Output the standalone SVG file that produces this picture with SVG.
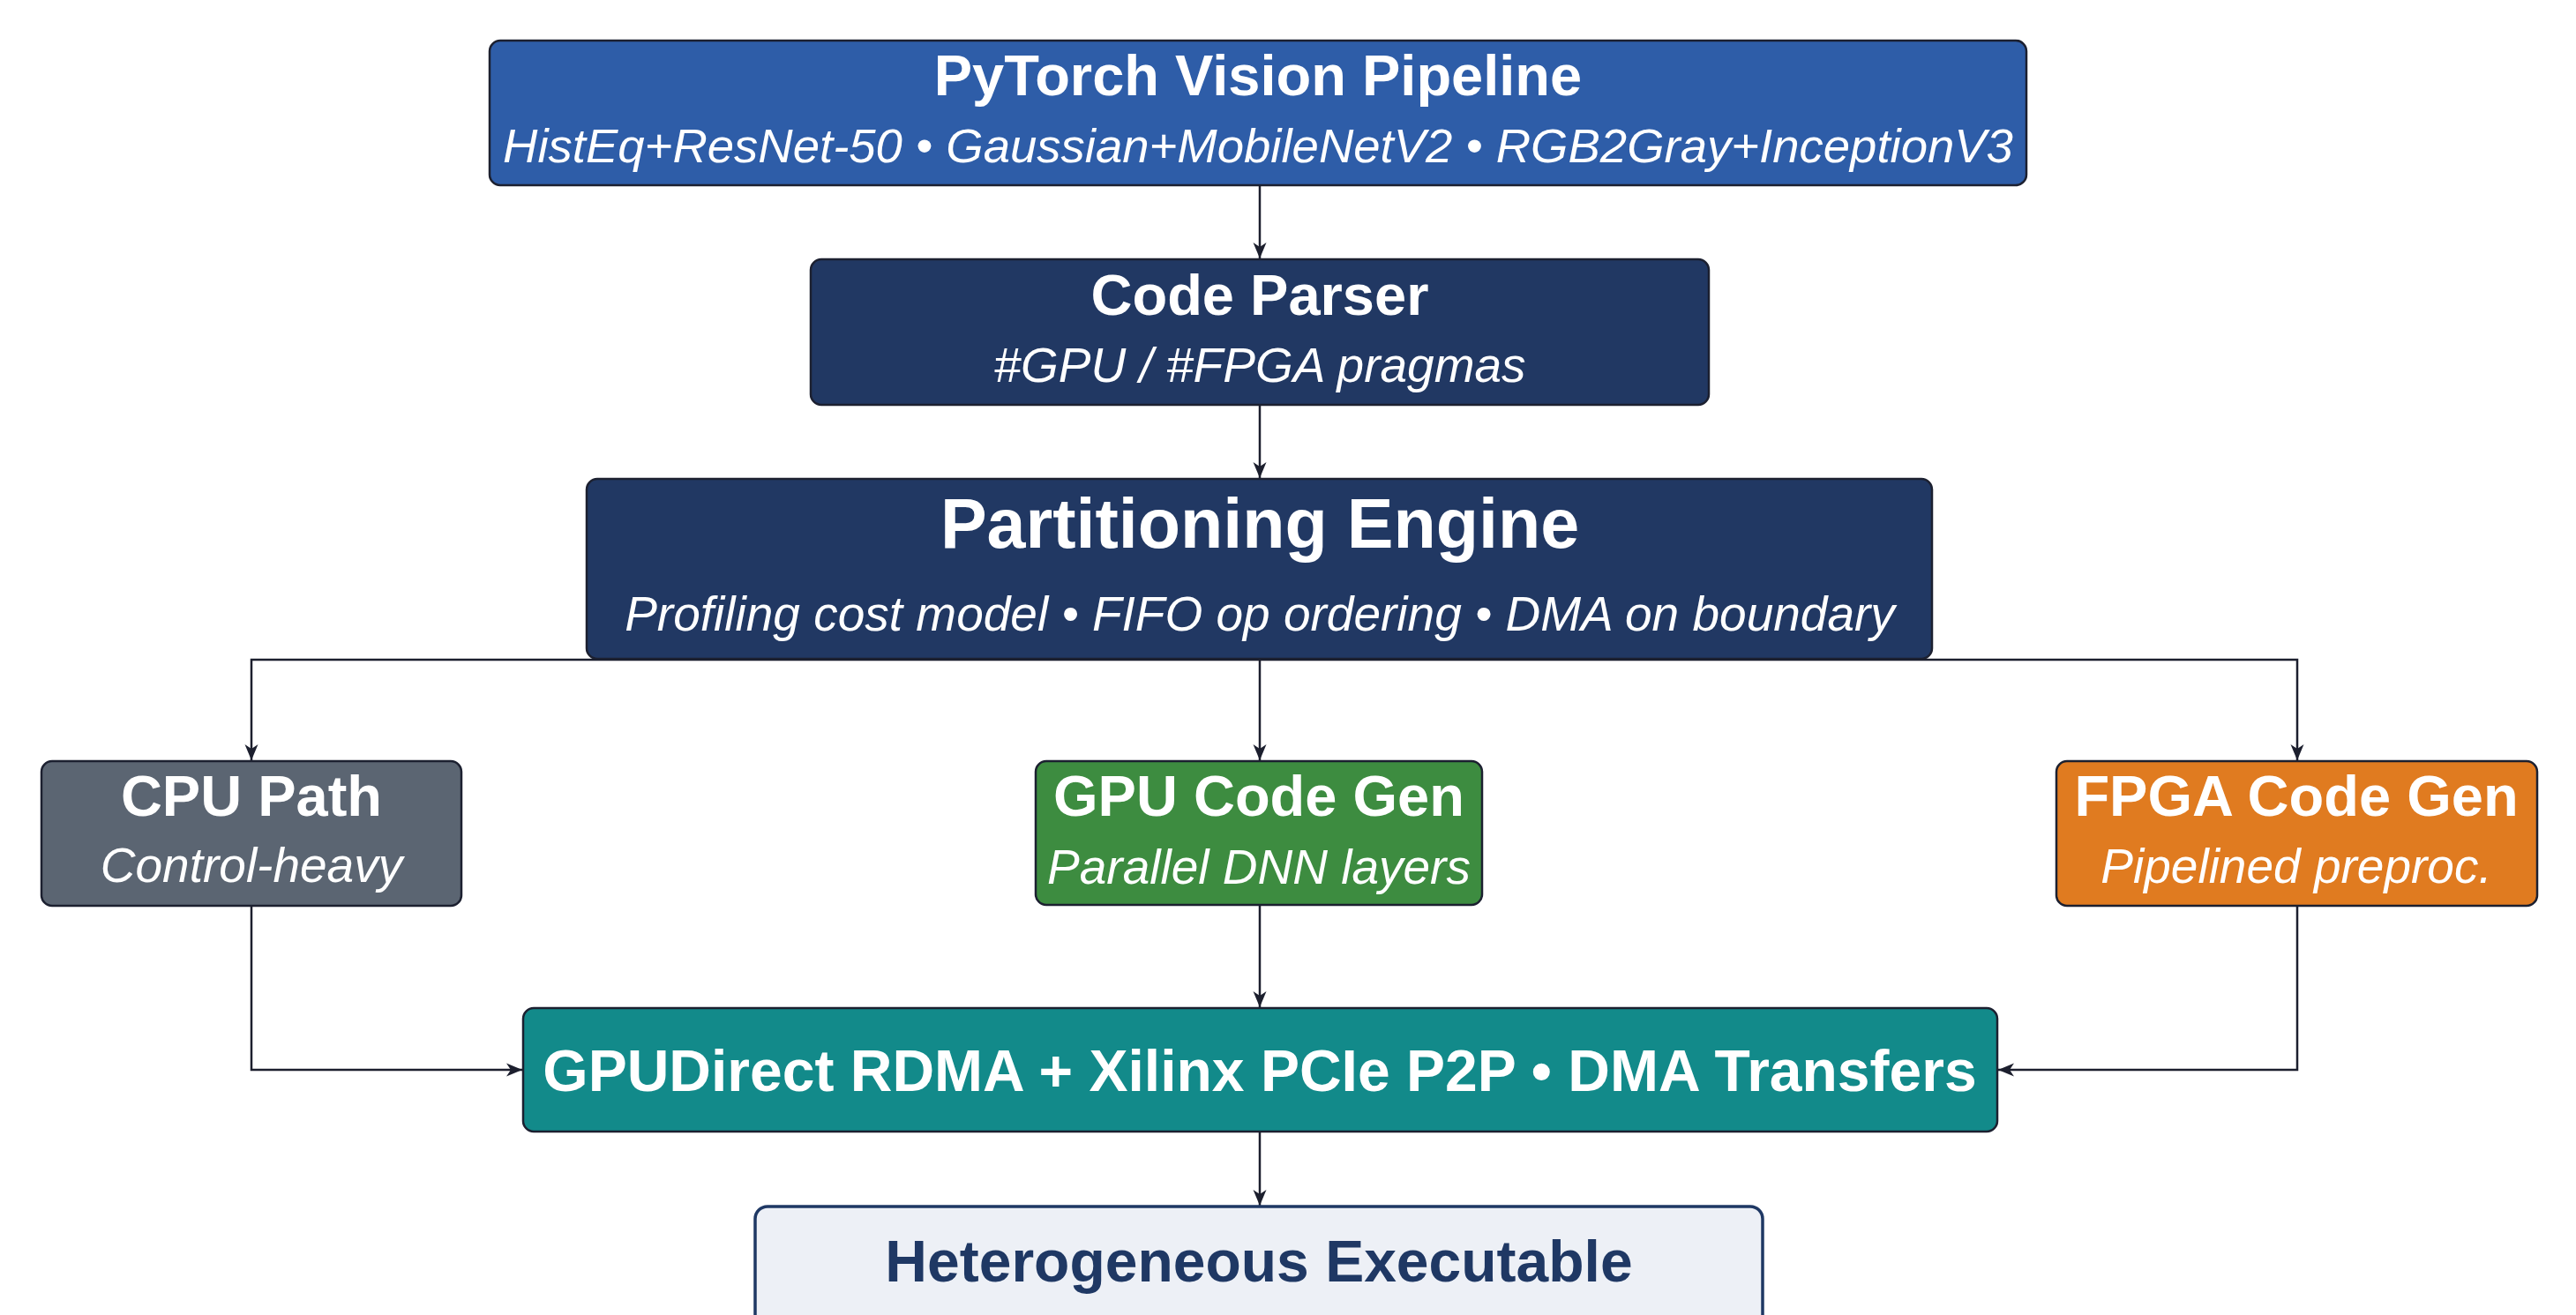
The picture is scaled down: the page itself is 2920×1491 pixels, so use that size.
<svg xmlns="http://www.w3.org/2000/svg" width="2920" height="1491" viewBox="0 0 2920 1491">
<defs>
<style>
.box{stroke:#1C2030;stroke-width:2.5}
.t{font-family:"Liberation Sans",Arial,sans-serif;font-weight:bold;fill:#ffffff;text-anchor:middle}
.s{font-family:"Liberation Sans",Arial,sans-serif;font-style:italic;fill:#ffffff;text-anchor:middle}
.c{fill:none;stroke:#1C1F2E;stroke-width:2.5}
</style>
<marker id="ah" markerUnits="userSpaceOnUse" markerWidth="19" markerHeight="16" refX="18" refY="8" orient="auto">
<path d="M0,0.5 L18,8 L0,15.5 L5,8 Z" fill="#1C1F2E"/>
</marker>
</defs>
<rect width="2920" height="1491" fill="#ffffff"/>
<g id="connectors">
<path class="c" d="M1428,210 V293" marker-end="url(#ah)"/>
<path class="c" d="M1428,459 V542" marker-end="url(#ah)"/>
<path class="c" d="M1428,747 V862" marker-end="url(#ah)"/>
<path class="c" d="M1428,748 H285 V862" marker-end="url(#ah)"/>
<path class="c" d="M1428,748 H2604 V862" marker-end="url(#ah)"/>
<path class="c" d="M1428,1026 V1142" marker-end="url(#ah)"/>
<path class="c" d="M285,1027 V1213 H592" marker-end="url(#ah)"/>
<path class="c" d="M2604,1027 V1213 H2265" marker-end="url(#ah)"/>
<path class="c" d="M1428,1283 V1367" marker-end="url(#ah)"/>
</g>
<g id="pytorch">
<rect class="box" x="555" y="46" width="1742" height="164" rx="12" fill="#2E5DA8"/>
<text class="t" x="1426" y="108" font-size="65">PyTorch Vision Pipeline</text>
<text class="s" x="1426" y="184" font-size="54.5">HistEq+ResNet-50 • Gaussian+MobileNetV2 • RGB2Gray+InceptionV3</text>
</g>
<g id="parser">
<rect class="box" x="919" y="294" width="1018" height="165" rx="12" fill="#213863"/>
<text class="t" x="1428" y="357" font-size="65">Code Parser</text>
<text class="s" x="1428" y="433" font-size="55">#GPU / #FPGA pragmas</text>
</g>
<g id="partition">
<rect class="box" x="665" y="543" width="1525" height="204" rx="12" fill="#213863"/>
<text class="t" x="1428" y="621" font-size="79">Partitioning Engine</text>
<text class="s" x="1428" y="715" font-size="55">Profiling cost model • FIFO op ordering • DMA on boundary</text>
</g>
<g id="cpu">
<rect class="box" x="47" y="863" width="476" height="164" rx="12" fill="#5B6572"/>
<text class="t" x="285" y="925" font-size="65">CPU Path</text>
<text class="s" x="285" y="1000" font-size="55">Control-heavy</text>
</g>
<g id="gpu">
<rect class="box" x="1174" y="863" width="506" height="163" rx="12" fill="#3D8C40"/>
<text class="t" x="1427" y="925" font-size="65">GPU Code Gen</text>
<text class="s" x="1427" y="1002" font-size="55">Parallel DNN layers</text>
</g>
<g id="fpga">
<rect class="box" x="2331" y="863" width="545" height="164" rx="12" fill="#E07B20"/>
<text class="t" x="2603" y="925" font-size="65">FPGA Code Gen</text>
<text class="s" x="2603" y="1001" font-size="55">Pipelined preproc.</text>
</g>
<g id="transfer">
<rect class="box" x="593" y="1143" width="1671" height="140" rx="12" fill="#128A8A"/>
<text class="t" x="1428" y="1237" font-size="66">GPUDirect RDMA + Xilinx PCIe P2P • DMA Transfers</text>
</g>
<g id="executable">
<rect x="856" y="1368" width="1142" height="160" rx="14" fill="#EDF0F6" stroke="#1F3864" stroke-width="3.5"/>
<text class="t" x="1427" y="1453" font-size="66" fill="#1F3864" style="fill:#1F3864">Heterogeneous Executable</text>
</g>
</svg>
